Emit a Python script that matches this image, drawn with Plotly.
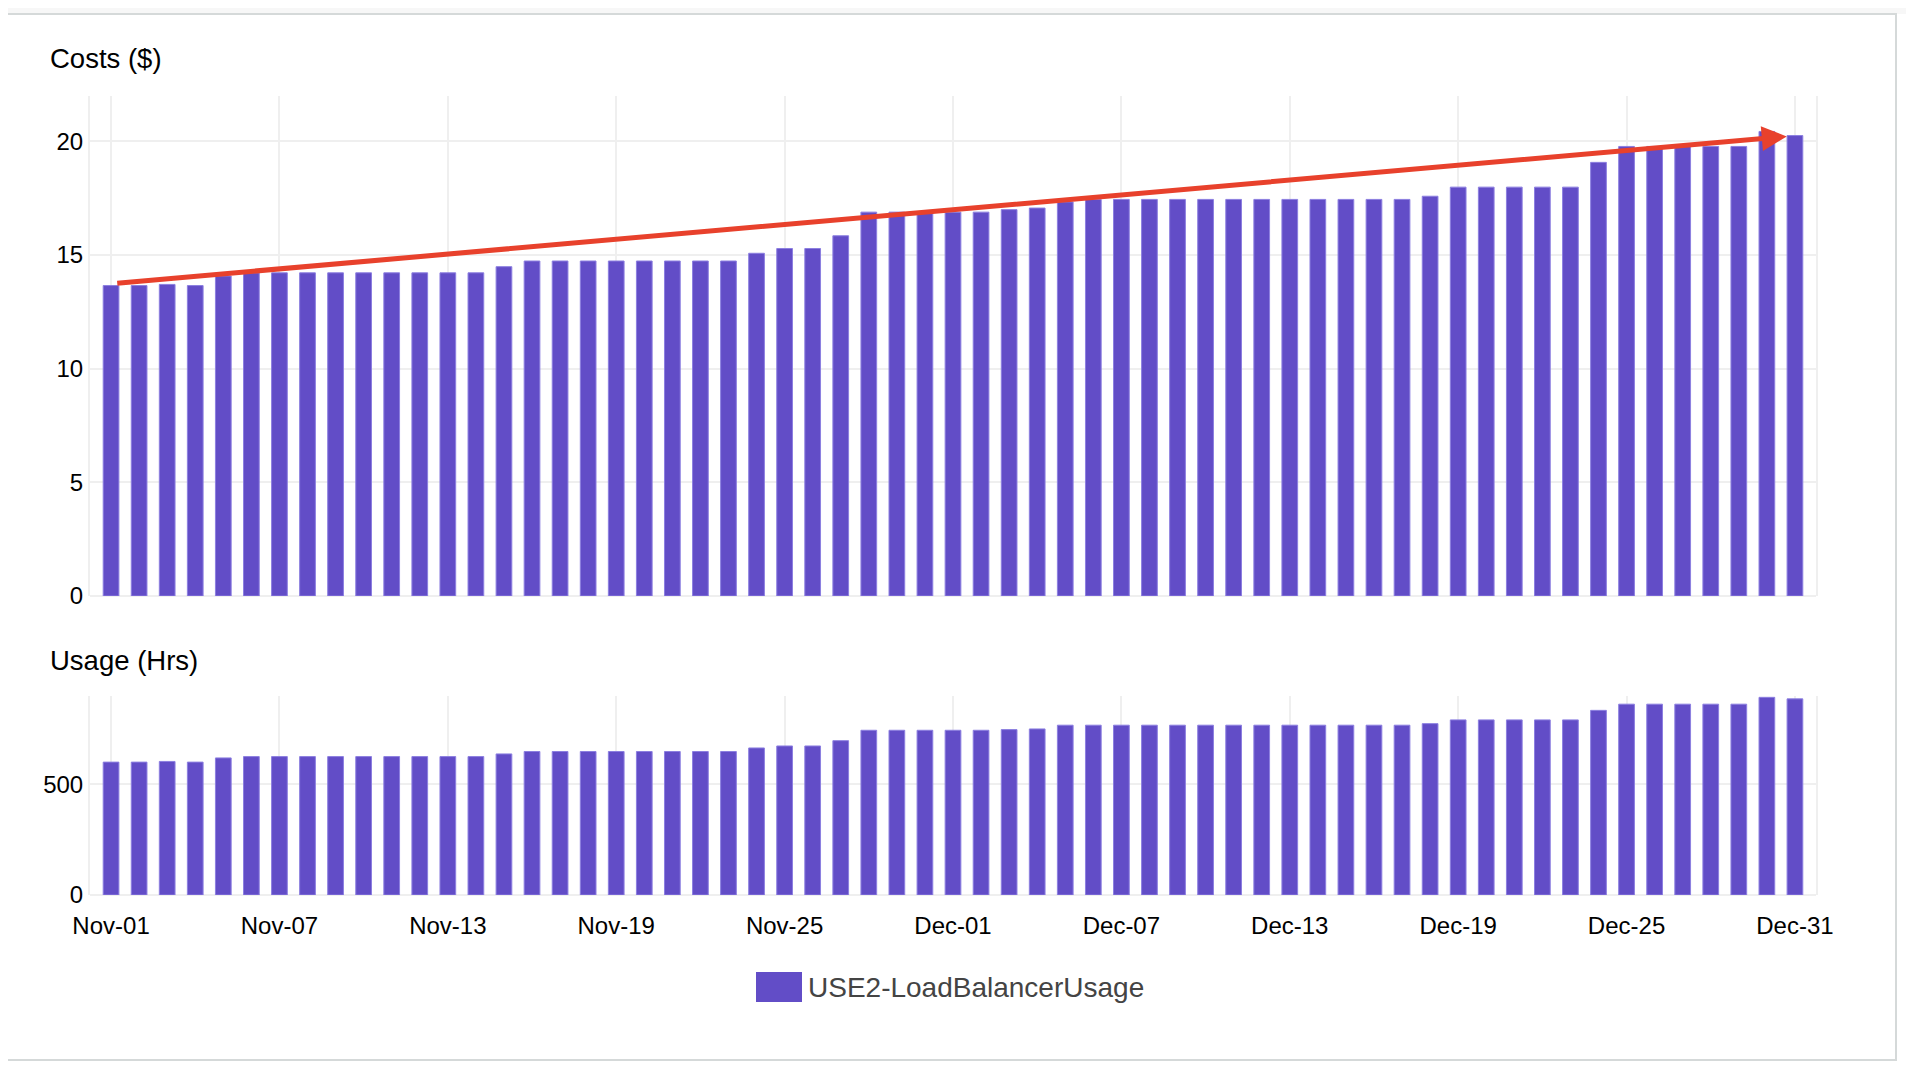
import pandas as pd
import plotly.graph_objects as go
from plotly.subplots import make_subplots

# ---------------- data ----------------
dates = pd.date_range("2023-11-01", "2023-12-31", freq="D").strftime("%Y-%m-%d").tolist()

costs = [
    13.66, 13.66, 13.71, 13.66, 14.08, 14.22, 14.22, 14.22, 14.22, 14.22,
    14.22, 14.22, 14.22, 14.22, 14.49, 14.74, 14.74, 14.74, 14.74, 14.74,
    14.74, 14.74, 14.74, 15.08, 15.29, 15.29, 15.85, 16.89, 16.89, 16.89,
    16.89, 16.89, 17.00, 17.07, 17.34, 17.45, 17.45, 17.45, 17.45, 17.45,
    17.45, 17.45, 17.45, 17.45, 17.45, 17.45, 17.45, 17.59, 17.99, 17.99,
    17.99, 17.99, 17.99, 19.08, 19.78, 19.78, 19.78, 19.78, 19.78, 20.44,
    20.26,
]
usage = [
    601, 601, 604, 601, 620, 626, 626, 626, 626, 626,
    626, 626, 626, 626, 638, 649, 649, 649, 649, 649,
    649, 649, 649, 665, 674, 674, 698, 745, 745, 745,
    745, 745, 748, 751, 768, 768, 768, 768, 768, 768,
    768, 768, 768, 768, 768, 768, 768, 775, 792, 792,
    792, 792, 792, 835, 863, 863, 863, 863, 863, 894,
    887,
]
series_name = "USE2-LoadBalancerUsage"
cost_title = "Costs ($)"
usage_title = "Usage (Hrs)"
cost_ticks = [0, 5, 10, 15, 20]
usage_ticks = [0, 500]
# trend arrow (annotation drawn on top of the cost chart)
trend_start = ("2023-11-01 04:00", 13.76)
trend_end = ("2023-12-30 17:00", 20.22)

# ---------------- style ----------------
W, H = 1914, 1078
BAR = "#624dc7"
EDGE = "#8c7fe0"
GRID = "#efefef"
ARROW = "#e8412c"
FONT = "Liberation Sans, Arial, Helvetica, sans-serif"


def px(x):
    return x / W


def py(y):
    return 1 - y / H


fig = make_subplots(rows=2, cols=1, shared_xaxes=True)
fig.add_trace(go.Bar(x=dates, y=costs, name=series_name, showlegend=False,
                     marker=dict(color=BAR, line=dict(color=EDGE, width=1))),
              row=1, col=1)
fig.add_trace(go.Bar(x=dates, y=usage, name=series_name, showlegend=False,
                     marker=dict(color=BAR, line=dict(color=EDGE, width=1))),
              row=2, col=1)

fig.update_xaxes(type="date", range=["2023-10-31 06:00", "2023-12-31 18:00"],
                 tick0="2023-11-01", dtick=6 * 86400000, tickformat="%b-%d",
                 showgrid=True, gridcolor=GRID, gridwidth=2, zeroline=False,
                 showline=False, ticks="outside", ticklen=0, automargin=False,
                 tickfont=dict(size=24, color="#000"), ticklabelstandoff=9)
fig.update_layout(
    xaxis=dict(domain=[px(90), px(1816)]),
    xaxis2=dict(domain=[px(90), px(1816)]),
    yaxis=dict(domain=[py(596), py(96)], range=[0, 22], tickvals=cost_ticks),
    yaxis2=dict(domain=[py(895), py(696)], range=[0, 900], tickvals=usage_ticks),
)
fig.update_yaxes(showgrid=True, gridcolor=GRID, gridwidth=2, zeroline=True,
                 zerolinecolor=GRID, zerolinewidth=2, showline=True, mirror=True,
                 linecolor=GRID, linewidth=2, ticks="outside", ticklen=0,
                 automargin=False,
                 tickfont=dict(size=24, color="#000"), ticklabelstandoff=0)

shapes = [
    dict(type="rect", xref="paper", yref="paper", x0=0, x1=1, y0=py(14), y1=1,
         fillcolor="#f7f7f7", line=dict(width=0), layer="below"),
    dict(type="rect", xref="paper", yref="paper", x0=px(3), x1=px(1896),
         y0=py(1060), y1=py(14), fillcolor="rgba(0,0,0,0)",
         line=dict(color="#d5d9d9", width=2), layer="below"),
    # manual legend swatch
    dict(type="rect", xref="paper", yref="paper", x0=px(756), x1=px(802),
         y0=py(1002), y1=py(972), fillcolor=BAR, line=dict(width=0)),
]

annotations = [
    dict(text=cost_title, xref="paper", yref="paper", x=px(48), y=py(58),
         xanchor="left", yanchor="middle", showarrow=False,
         font=dict(size=27.5, color="#000")),
    dict(text=usage_title, xref="paper", yref="paper", x=px(48), y=py(660),
         xanchor="left", yanchor="middle", showarrow=False,
         font=dict(size=27.5, color="#000")),
    dict(text=series_name, xref="paper", yref="paper", x=px(806), y=py(987),
         xanchor="left", yanchor="middle", showarrow=False,
         font=dict(size=28, color="#444")),
    dict(text="", xref="x", yref="y", axref="x", ayref="y",
         x=trend_end[0], y=trend_end[1], ax=trend_start[0], ay=trend_start[1],
         showarrow=True, arrowhead=2, arrowsize=1, arrowwidth=5,
         arrowcolor=ARROW, standoff=0, startstandoff=0),
]

fig.update_layout(
    autosize=True, margin=dict(l=0, r=0, t=0, b=0, autoexpand=False),
    paper_bgcolor="#ffffff", plot_bgcolor="#ffffff",
    bargap=0.44, showlegend=False,
    font=dict(family=FONT, color="#000"),
    shapes=shapes, annotations=annotations,
)

fig.write_html("out.html", config={"displayModeBar": False},
               default_width=f"{W}px",
               default_height=f"{H}px; margin:-8px")
